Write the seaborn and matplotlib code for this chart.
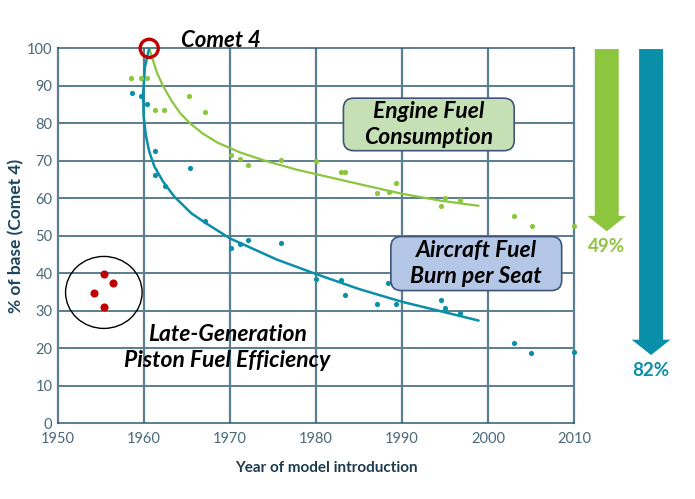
import numpy as np
import pandas as pd
import seaborn as sns
import matplotlib.pyplot as plt
from matplotlib.patches import Ellipse, FancyArrow, FancyBboxPatch

# --- data ---
engine_year = [1958.5, 1959.6, 1960.4, 1961.3, 1962.3, 1965.2, 1967.1, 1970.1, 1971.1,
               1972.1, 1975.9, 1980.0, 1982.9, 1983.4, 1987.1, 1988.5, 1989.3, 1994.5,
               1995.0, 1996.7, 2003.0, 2005.1, 2010.0]
engine_pct = [92, 92, 92, 83.5, 83.5, 87.3, 83, 71.6, 70.4,
              69, 70.2, 70, 67, 67, 61.4, 61.6, 64.2, 58,
              60.2, 59.5, 55.3, 52.6, 52.6]

seat_year = [1958.6, 1959.6, 1960.3, 1961.3, 1961.3, 1962.4, 1965.3, 1967.1, 1970.1,
             1971.1, 1972.1, 1975.9, 1980.0, 1982.9, 1983.4, 1987.1, 1988.4, 1989.3,
             1994.5, 1995.0, 1996.7, 2003.0, 2005.0, 2010.0]
seat_pct = [88.2, 87.3, 85.1, 72.6, 66.2, 63.3, 68.2, 54, 46.8,
            47.7, 48.9, 48, 38.6, 38.1, 34.3, 31.8, 37.3, 31.8,
            32.8, 30.8, 29.3, 21.5, 18.7, 18.9]

# trend curves
engine_fit_year = [1960.6, 1961.5, 1962.2, 1963.2, 1964.2, 1965.35, 1966.8, 1968.5,
                   1971.2, 1974.1, 1977.8, 1981.6, 1985.0, 1990.0, 1994.4, 1998.9]
engine_fit_pct = [100, 93.5, 90.0, 86.0, 82.7, 80.0, 77.3, 74.9,
                  72.2, 70.0, 67.6, 65.6, 63.8, 61.2, 59.4, 58.0]

seat_fit_year = [1960.6, 1960.1, 1959.9, 1959.95, 1960.2, 1960.6, 1961.2, 1962.2,
                 1963.5, 1965.5, 1967.1, 1970.0, 1975.4, 1980.0, 1985.0, 1990.0,
                 1995.0, 1998.9]
seat_fit_pct = [100, 95, 88, 82, 77, 72.5, 68.5, 64.5,
                60.5, 56, 53.5, 49.3, 43.7, 39.8, 35.8, 32.4,
                29.6, 27.4]

piston_year = [1955.3, 1956.4, 1954.2, 1955.4]
piston_pct = [39.8, 37.3, 34.7, 31.1]

comet_year = 1960.6
comet_pct = 100

reductions = [49, 82]          # engine, seat
arrow_year = [2013.8, 2018.95]

GREEN = "#8cc63f"
TEAL = "#0a8fa8"
RED = "#c00000"
HGRID = "#2f5a70"
VGRID = "#5b7f92"

sns.set_style("white")
plt.rcParams['font.family'] = ['Lato', 'DejaVu Sans']
plt.rcParams['text.color'] = 'black'

fig = plt.figure(figsize=(6.95, 4.99), dpi=100)
ax = fig.add_axes([0.0835, 0.1517, 0.7425, 0.7515])

# gridlines
for yv in range(10, 100, 10):
    ax.axhline(yv, color=HGRID, lw=1.1, zorder=0)
for xv in range(1960, 2010, 10):
    ax.axvline(xv, color=VGRID, lw=1.6, zorder=0)
for side in ['top', 'bottom']:
    ax.spines[side].set_color(HGRID)
    ax.spines[side].set_linewidth(1.1)
for side in ['left', 'right']:
    ax.spines[side].set_color(VGRID)
    ax.spines[side].set_linewidth(1.6)

# trend lines
sns.lineplot(x=engine_fit_year, y=engine_fit_pct, sort=False, estimator=None,
             color=GREEN, lw=1.6, ax=ax, zorder=3)
sns.lineplot(x=seat_fit_year, y=seat_fit_pct, sort=False, estimator=None,
             color=TEAL, lw=1.8, ax=ax, zorder=3)

# points
sns.scatterplot(x=engine_year, y=engine_pct, color=GREEN, s=14, linewidth=0,
                ax=ax, zorder=4, clip_on=False)
sns.scatterplot(x=seat_year, y=seat_pct, color=TEAL, s=14, linewidth=0,
                ax=ax, zorder=4, clip_on=False)
sns.scatterplot(x=piston_year, y=piston_pct, color=RED, s=34, linewidth=0,
                ax=ax, zorder=4)
ax.scatter([comet_year], [comet_pct], s=170, facecolors='none', edgecolors=RED,
           linewidths=2.4, zorder=6, clip_on=False)

ax.add_patch(Ellipse((np.mean(piston_year), 34.9), 8.9, 19.2, fill=False,
                     ec='black', lw=1.0, zorder=3))

# reduction arrows on the right
arrow_cols = [GREEN, TEAL]
for yr, red, col in zip(arrow_year, reductions, arrow_cols):
    ar = FancyArrow(yr, 99.8, 0, -(red - 0.4), width=2.78, head_width=4.5,
                    head_length=4.1, length_includes_head=True, color=col,
                    lw=0, clip_on=False, zorder=5)
    ax.add_patch(ar)
    ax.text(yr, 100 - red - 3.9, f"{red}%", color=col, fontsize=13.5,
            fontweight='bold', ha='center', va='center', clip_on=False)

ax.set_xlim(1950, 2010)
ax.set_ylim(0, 100)
ax.set_xticks(range(1950, 2011, 10))
ax.set_yticks(range(0, 101, 10))
ax.tick_params(length=0, labelsize=10.5, labelcolor="#4a687c")
ax.tick_params(axis='x', pad=6)
ax.tick_params(axis='y', pad=4)

ax.set_xlabel("Year of model introduction", fontsize=11, fontweight='bold',
              color="#1d3b50")
ax.xaxis.set_label_coords(0.521, -0.1)
ax.set_ylabel("% of base (Comet 4)", fontsize=12.5, fontweight='bold',
              color="#1d4560")
ax.yaxis.set_label_coords(-0.065, 0.5)

# annotations
ax.text(1964.3, 102.2, "Comet 4", fontsize=16, fontweight='bold', style='italic',
        ha='left', va='center', clip_on=False)
ax.text(1969.7, 20.1, "Late-Generation\nPiston Fuel Efficiency", fontsize=16.5,
        fontweight='bold', style='italic', ha='center', va='center',
        linespacing=1.3)

aspect = 516 / 375
box_specs = [
    ((0.553, 0.727), 0.331, 0.140, "#c5e0b4", "Engine Fuel\nConsumption"),
    ((0.645, 0.354), 0.331, 0.144, "#b4c7e7", "Aircraft Fuel\nBurn per Seat"),
]
for (bx, by), bw, bh, fc, txt in box_specs:
    ax.add_patch(FancyBboxPatch((bx, by), bw, bh,
                                boxstyle="round,pad=0,rounding_size=0.02",
                                mutation_aspect=aspect, transform=ax.transAxes,
                                fc=fc, ec="#41557a", lw=1.2, zorder=7,
                                clip_on=False))
    ax.text(bx + bw / 2, by + bh / 2, txt, transform=ax.transAxes, fontsize=16.5,
            fontweight='bold', style='italic', ha='center', va='center',
            linespacing=1.3, zorder=8)

fig.savefig("out.png", dpi=100)
